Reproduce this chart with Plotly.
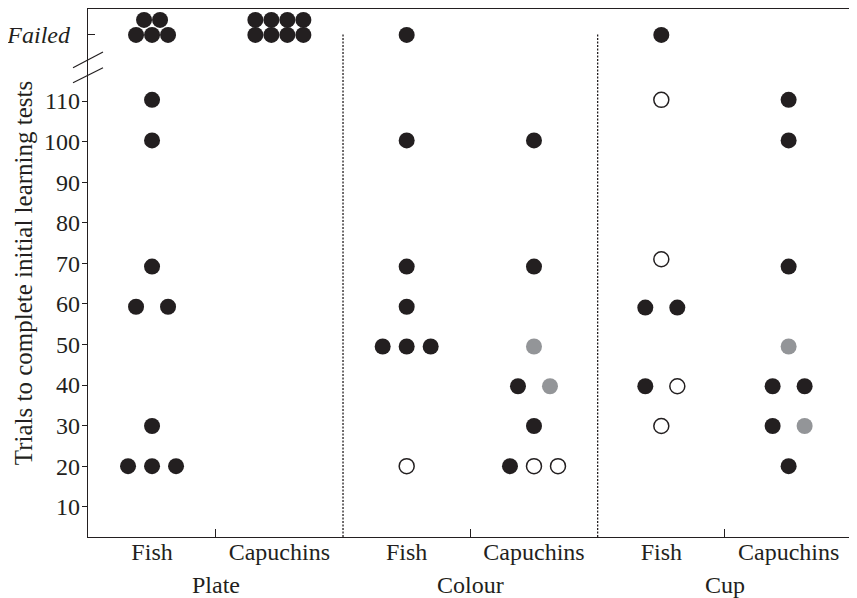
import math
import plotly.graph_objects as go

# ---------------- data ----------------
categories = ["Fish", "Capuchins", "Fish", "Capuchins", "Fish", "Capuchins"]
conditions = ["Plate", "Colour", "Cup"]
y_tick_values = [10, 20, 30, 40, 50, 60, 70, 80, 90, 100, 110]
failed_label = "Failed"

plate_fish_trials = ["Failed"] * 5 + [110.3, 100.3, 69.2, 59.3, 59.3, 29.9, 20, 20, 20]
plate_fish_marker = ["filled"] * 14
plate_capuchin_trials = ["Failed"] * 8
plate_capuchin_marker = ["filled"] * 8
colour_fish_trials = ["Failed", 100.3, 69.2, 59.3, 49.5, 49.5, 49.5, 20]
colour_fish_marker = ["filled"] * 7 + ["open"]
colour_capuchin_trials = [100.3, 69.2, 49.5, 39.7, 39.7, 29.9, 20, 20, 20]
colour_capuchin_marker = ["filled", "filled", "grey", "filled", "grey", "filled", "filled", "open", "open"]
cup_fish_trials = ["Failed", 110.3, 71, 59.1, 59.1, 39.7, 39.7, 29.9]
cup_fish_marker = ["filled", "open", "open", "filled", "filled", "filled", "open", "open"]
cup_capuchin_trials = [110.3, 100.3, 69.2, 49.5, 39.7, 39.7, 29.9, 29.9, 20]
cup_capuchin_marker = ["filled", "filled", "filled", "grey", "filled", "filled", "filled", "grey", "filled"]

all_trials = [plate_fish_trials, plate_capuchin_trials, colour_fish_trials,
              colour_capuchin_trials, cup_fish_trials, cup_capuchin_trials]
all_markers = [plate_fish_marker, plate_capuchin_marker, colour_fish_marker,
               colour_capuchin_marker, cup_fish_marker, cup_capuchin_marker]

# ---------------- layout constants ----------------
# page body has an 8px default margin, so the figure is 8px smaller than the window
W, H = 849, 590
ML, MR, MT, MB = 80, 0, 1, 61
PW, PH = W - ML - MR, H - MT - MB
X_RANGE = [-0.503, 5.537]
Y_RANGE = [2.53, 132.7]
FAILED_Y = 126.3
INK = "#231f20"
GREY = "#939598"
FONT = "Liberation Serif"
FS = 24

px_per_x = PW / (X_RANGE[1] - X_RANGE[0])
px_per_y = PH / (Y_RANGE[1] - Y_RANGE[0])

def y_to_paper(v):
    return (v - Y_RANGE[0]) / (Y_RANGE[1] - Y_RANGE[0])

# ---------------- beeswarm placement ----------------
pts = {"filled": ([], []), "grey": ([], []), "open": ([], [])}
for ci, (vals, kinds) in enumerate(zip(all_trials, all_markers)):
    groups = {}
    order = []
    for v, k in zip(vals, kinds):
        if v not in groups:
            groups[v] = []
            order.append(v)
        groups[v].append(k)
    for v in order:
        ks = groups[v]
        n = len(ks)
        if v == failed_label:
            nb = math.ceil(n / 2)
            rows = [(ks[:nb], FAILED_Y), (ks[nb:], FAILED_Y + 15 / px_per_y)]
            for rk, ry in rows:
                m = len(rk)
                for j, k in enumerate(rk):
                    off = (j - (m - 1) / 2) * 16
                    pts[k][0].append(ci + off / px_per_x)
                    pts[k][1].append(ry)
        else:
            step = 32 if n == 2 else 24
            for j, k in enumerate(ks):
                off = (j - (n - 1) / 2) * step
                pts[k][0].append(ci + off / px_per_x)
                pts[k][1].append(v)

fig = go.Figure()
fig.add_trace(go.Scatter(x=pts["filled"][0], y=pts["filled"][1], mode="markers",
                         marker=dict(size=16, color=INK, line=dict(width=0)),
                         showlegend=False, hoverinfo="skip"))
fig.add_trace(go.Scatter(x=pts["grey"][0], y=pts["grey"][1], mode="markers",
                         marker=dict(size=16, color=GREY, line=dict(width=0)),
                         showlegend=False, hoverinfo="skip"))
fig.add_trace(go.Scatter(x=pts["open"][0], y=pts["open"][1], mode="markers",
                         marker=dict(size=15, color="white", line=dict(width=1.5, color=INK)),
                         showlegend=False, hoverinfo="skip"))
# invisible trace for overlay axes
fig.add_trace(go.Scatter(x=[0], y=[FAILED_Y], xaxis="x2", yaxis="y2", mode="markers",
                         marker=dict(opacity=0), showlegend=False, hoverinfo="skip"))

shapes = []
# dotted separators
for xv in [1.5, 3.5, 5.5]:
    shapes.append(dict(type="line", xref="x", yref="y", x0=xv, x1=xv,
                       y0=Y_RANGE[0], y1=FAILED_Y + 0.5,
                       line=dict(color=INK, width=1.3, dash="2px,1.5px")))
# axis break marks
for y_lo, y_hi in [(118.2, 122.1), (114.5, 118.2)]:
    shapes.append(dict(type="line", xref="paper", yref="paper",
                       x0=-15 / PW, x1=15 / PW, y0=y_to_paper(y_lo), y1=y_to_paper(y_hi),
                       line=dict(color=INK, width=1.2)))

annotations = []
for gi, g in enumerate(conditions):
    annotations.append(dict(text=g, x=2 * gi + 0.5, xref="x", y=-48 / PH, yref="paper",
                            showarrow=False, xanchor="center", yanchor="middle",
                            font=dict(family=FONT, size=FS, color=INK)))

fig.update_layout(
    width=W, height=H,
    margin=dict(l=ML, r=MR, t=MT, b=MB, pad=0, autoexpand=False),
    plot_bgcolor="white", paper_bgcolor="white",
    shapes=shapes, annotations=annotations,
    xaxis=dict(range=X_RANGE, showgrid=False, zeroline=False, automargin=False,
               showline=True, linecolor=INK, linewidth=1.3, mirror=True,
               tickvals=[0.5, 2.5, 4.5], ticktext=["", "", ""],
               ticks="inside", ticklen=8, tickwidth=1.3, tickcolor=INK),
    xaxis2=dict(range=X_RANGE, overlaying="x", side="bottom", showgrid=False,
                zeroline=False, showline=False, tickvals=list(range(6)), automargin=False,
                ticktext=categories, ticks="", ticklabelstandoff=-2,
                tickfont=dict(family=FONT, size=FS, color=INK)),
    yaxis=dict(range=Y_RANGE, showgrid=False, zeroline=False, automargin=False,
               showline=True, linecolor=INK, linewidth=1.3,
               tickvals=y_tick_values, ticks="outside", ticklen=5,
               tickwidth=1.3, tickcolor=INK, ticklabelstandoff=-3,
               tickfont=dict(family=FONT, size=FS, color=INK),
               title=dict(text="Trials to complete initial learning tests",
                          font=dict(family=FONT, size=25, color=INK), standoff=4)),
    yaxis2=dict(range=Y_RANGE, overlaying="y", side="left", showgrid=False,
                zeroline=False, showline=False, tickvals=[FAILED_Y], automargin=False,
                ticktext=["<i>" + failed_label + "</i>"], ticks="inside",
                ticklen=7, tickwidth=1.3, tickcolor=INK, ticklabelstandoff=17,
                tickfont=dict(family=FONT, size=FS, color=INK)),
)

fig.write_html("out.html")
